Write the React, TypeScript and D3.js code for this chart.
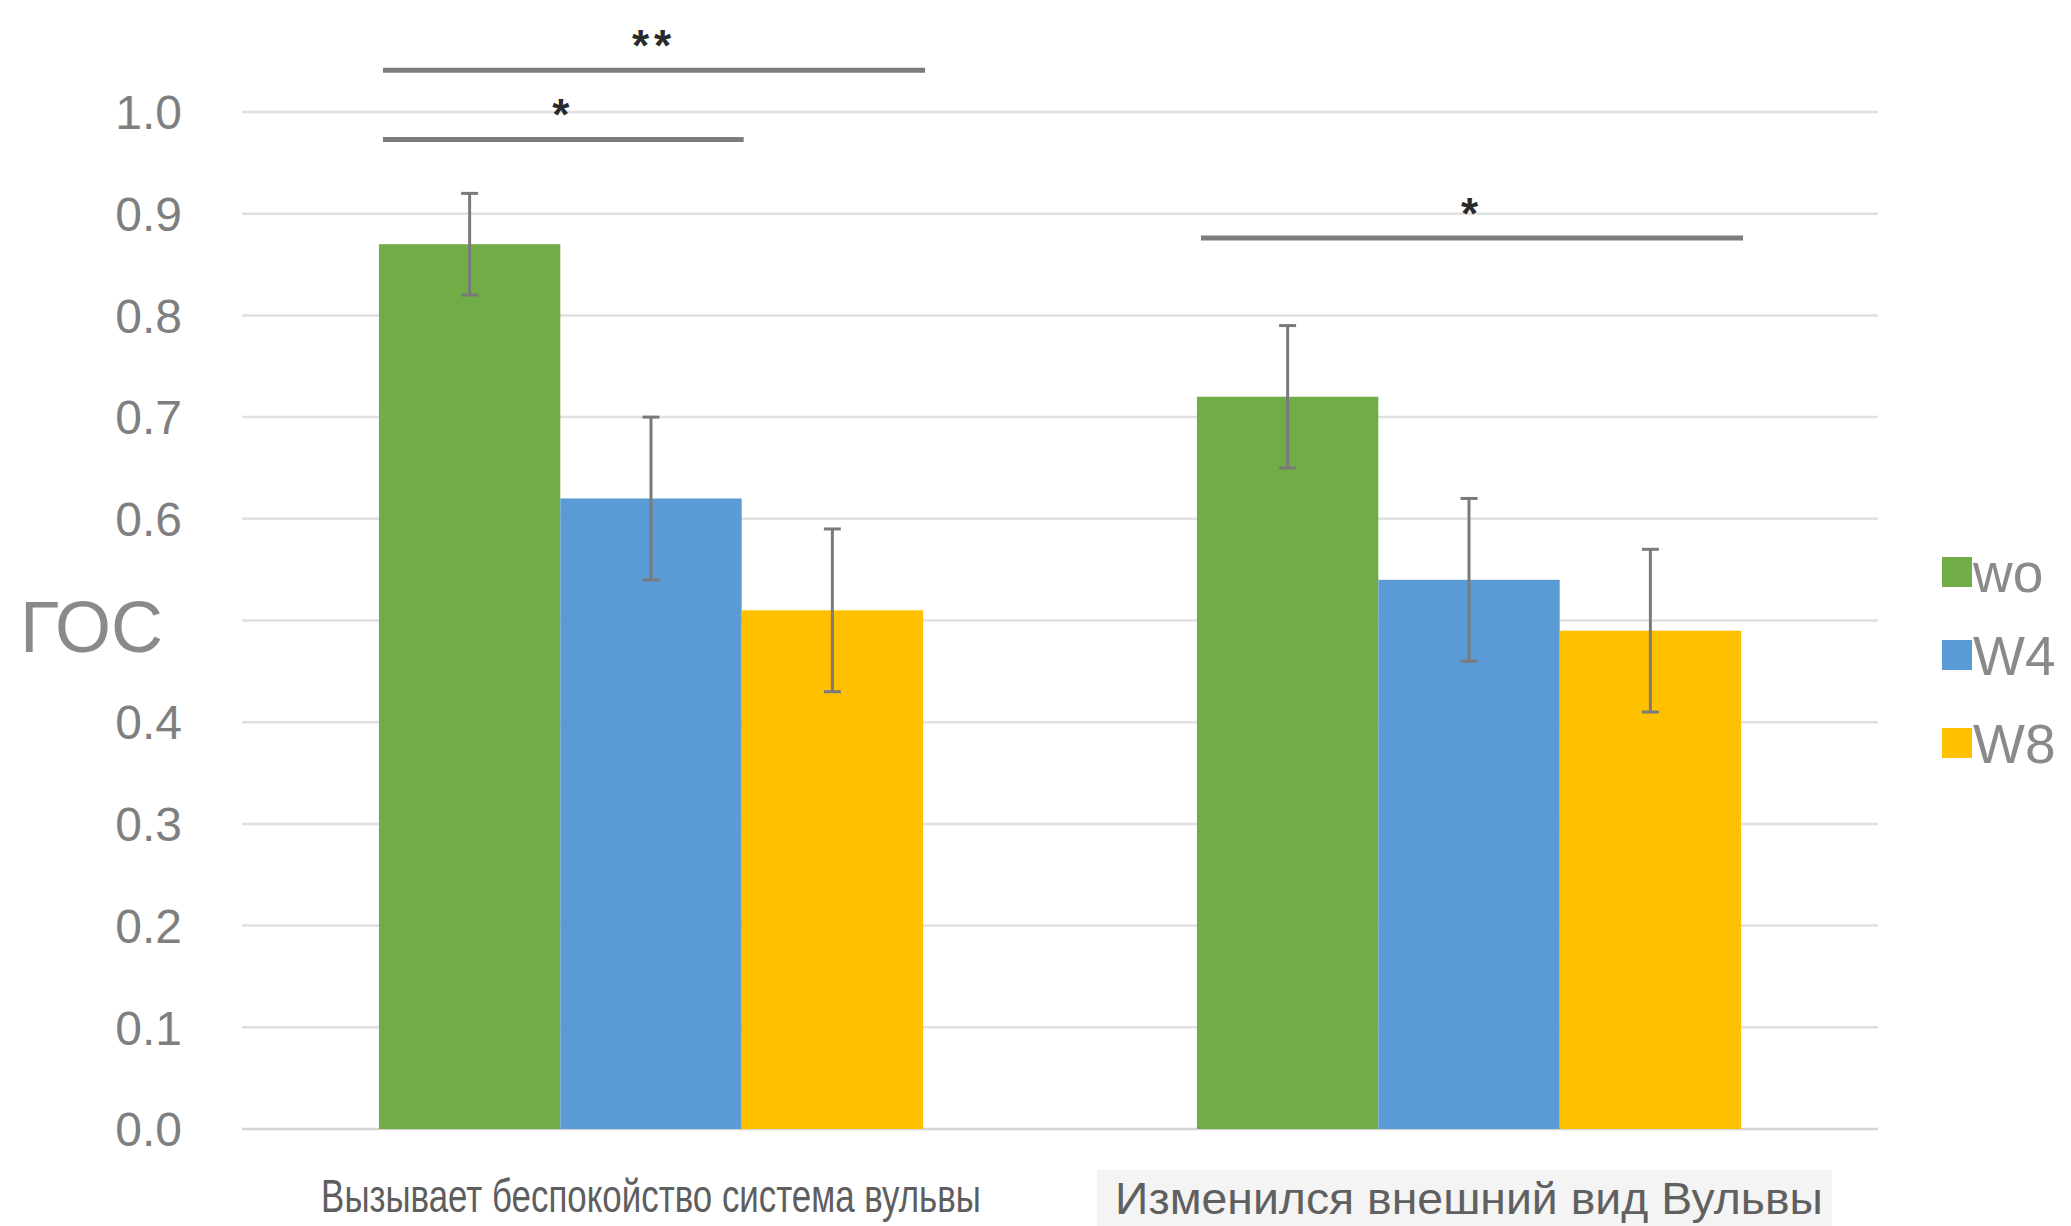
import React, { useLayoutEffect, useRef, useState } from "react";
import * as d3 from "d3";

const categories = ["Вызывает беспокойство система вульвы", "Изменился внешний вид Вульвы"];
const seriesNames = ["wo", "W4", "W8"];
const seriesColors = ["#70AD47", "#5B9BD5", "#FFC000"];
const woValues = [0.87, 0.72];
const woErrors = [0.05, 0.07];
const w4Values = [0.62, 0.54];
const w4Errors = [0.08, 0.08];
const w8Values = [0.51, 0.49];
const w8Errors = [0.08, 0.08];
const yTicks = [0, 0.1, 0.2, 0.3, 0.4, 0.5, 0.6, 0.7, 0.8, 0.9, 1.0];
const hiddenTickLabels = [0.5];
const yTitle = "ГОС";
const brackets = [
  { cat: 0, from: 0, to: 2, level: 1.041, label: "**" },
  { cat: 0, from: 0, to: 1, level: 0.973, label: "*" },
  { cat: 1, from: 0, to: 2, level: 0.876, label: "*" },
];

const W = 2071;
const H = 1226;
const left = 242;
const right = 1878;
const top = 112;
const bottom = 1129;

export default function App() {
  const values = [woValues, w4Values, w8Values];
  const errors = [woErrors, w4Errors, w8Errors];
  const y = d3.scaleLinear().domain([0, 1]).range([bottom, top]);
  const x0 = d3.scaleBand<string>().domain(categories).range([left, right]).padding(0);
  const x1 = d3
    .scaleBand<string>()
    .domain(seriesNames)
    .range([0, x0.bandwidth()])
    .paddingInner(0)
    .paddingOuter(0.755);
  const bw = x1.bandwidth();
  const fmt = d3.format(".1f");
  const labelWidths = [660, 708];
  const labelRefs = useRef<(SVGTextElement | null)[]>([]);
  const [scales, setScales] = useState<number[]>([0.72, 1]);

  useLayoutEffect(() => {
    const s = labelRefs.current.map((el, i) => {
      if (!el) return 1;
      const w = el.getComputedTextLength();
      return w > 0 ? labelWidths[i] / w : 1;
    });
    setScales(s);
  }, []);

  return (
    <svg
      width={W}
      height={H}
      style={{ position: "absolute", left: 0, top: 0, background: "#fff" }}
      fontFamily="'Liberation Sans', Arial, sans-serif"
    >
      <rect x={0} y={0} width={W} height={H} fill="#fff" />
      {/* gridlines */}
      {yTicks.map((t) => (
        <line
          key={"g" + t}
          x1={left}
          x2={right}
          y1={y(t)}
          y2={y(t)}
          stroke={t === 0 ? "#d4d4d4" : "#e0e0e0"}
          strokeWidth={2.5}
        />
      ))}
      {/* tick labels */}
      {yTicks
        .filter((t) => !hiddenTickLabels.includes(t))
        .map((t) => (
          <text
            key={"t" + t}
            x={182}
            y={y(t)}
            dy="0.36em"
            textAnchor="end"
            fontSize={48}
            fill="#7f7f7f"
          >
            {fmt(t)}
          </text>
        ))}
      {/* y title */}
      <text x={20} y={652} fontSize={72} fill="#8a8a8a">
        {yTitle}
      </text>
      {/* bars */}
      {categories.map((c, ci) =>
        seriesNames.map((s, si) => {
          const v = values[si][ci];
          const bx = (x0(c) as number) + (x1(s) as number);
          return (
            <rect
              key={c + s}
              x={bx}
              y={y(v)}
              width={bw}
              height={y(0) - y(v)}
              fill={seriesColors[si]}
            />
          );
        })
      )}
      {/* error bars */}
      {categories.map((c, ci) =>
        seriesNames.map((s, si) => {
          const v = values[si][ci];
          const e = errors[si][ci];
          const cx = (x0(c) as number) + (x1(s) as number) + bw / 2;
          const yTop = y(v + e);
          const yBot = y(v - e);
          return (
            <g key={"e" + c + s} stroke="#7a7a7a" strokeWidth={3}>
              <line x1={cx} x2={cx} y1={yTop} y2={yBot} />
              <line x1={cx - 8.5} x2={cx + 8.5} y1={yTop} y2={yTop} />
              <line x1={cx - 8.5} x2={cx + 8.5} y1={yBot} y2={yBot} />
            </g>
          );
        })
      )}
      {/* significance brackets */}
      {brackets.map((b, i) => {
        const c = categories[b.cat];
        const xa = (x0(c) as number) + (x1(seriesNames[b.from]) as number) + 4;
        const xb = (x0(c) as number) + (x1(seriesNames[b.to]) as number) + bw + 2;
        const ly = y(b.level);
        return (
          <g key={"b" + i}>
            <line x1={xa} x2={xb} y1={ly} y2={ly} stroke="#7c7c7c" strokeWidth={5} />
            <text
              x={(xa + xb) / 2}
              y={ly - 9}
              textAnchor="middle"
              fontSize={44}
              fontWeight="bold"
              fill="#2a2a2a"
              letterSpacing={5}
            >
              {b.label}
            </text>
          </g>
        );
      })}
      {/* x labels */}
      <rect x={1097} y={1170} width={735} height={56} fill="#f4f4f4" />
      {categories.map((c, ci) => {
        const cx = (x0(c) as number) + x0.bandwidth() / 2;
        const ty = ci === 0 ? 1212 : 1214;
        return (
          <g key={"xl" + c} transform={`translate(${cx},${ty}) scale(${scales[ci]},1)`}>
            <text
              ref={(el) => {
                labelRefs.current[ci] = el;
              }}
              x={0}
              y={0}
              textAnchor="middle"
              fontSize={ci === 0 ? 46 : 45}
              fill={ci === 0 ? "#5e5e5e" : "#606060"}
            >
              {c}
            </text>
          </g>
        );
      })}
      {/* legend */}
      {seriesNames.map((s, si) => {
        const cy = [572, 655, 743][si];
        return (
          <g key={"l" + s}>
            <rect x={1942} y={cy - 15} width={30} height={30} fill={seriesColors[si]} />
            <text x={1973} y={cy} dy="0.36em" fontSize={55} fill="#8a8a8a">
              {s}
            </text>
          </g>
        );
      })}
    </svg>
  );
}
